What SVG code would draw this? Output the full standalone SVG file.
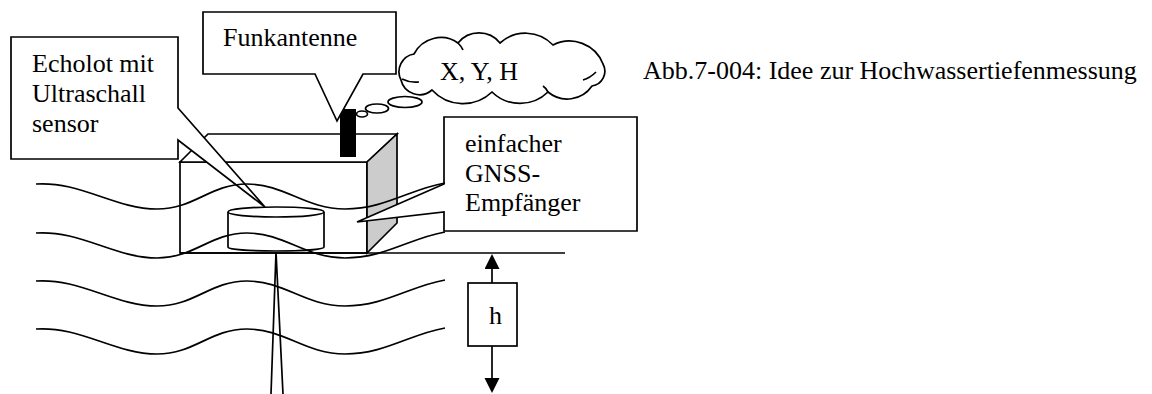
<svg xmlns="http://www.w3.org/2000/svg" width="1152" height="394" viewBox="0 0 1152 394">
  <style>
    .ln { fill: none; stroke: #000; stroke-width: 1.7; stroke-linejoin: miter; }
    .box { fill: #fff; stroke: #000; stroke-width: 1.7; stroke-linejoin: miter; }
    .txt { font-family: "Liberation Serif", "Times New Roman", serif; font-size: 26px; fill: #000; }
  </style>
  <defs>
    <marker id="head" markerUnits="userSpaceOnUse" markerWidth="16" markerHeight="16" refX="0" refY="7.5" orient="auto">
      <path d="M0,0 L15,7.5 L0,15 Z" fill="#000"/>
    </marker>
    <path id="wave" d="M0,0 C44,-3 79,25 121,25 C159,25 174,0 211,0 C249,0 269,25 309,25 C349,25 374,5 409,-1"/>
  </defs>
  <rect width="1152" height="394" fill="#fff"/>

  <!-- floating buoy body -->
  <g id="buoy">
    <rect class="box" x="180" y="162" width="187" height="91"/>
    <polygon class="box" points="180,162 208,134 397,134 367,162"/>
    <polygon class="ln" fill="#cccccc" style="fill:#cccccc" points="367,162 397,134 397,223 367,253"/>
  </g>

  <!-- ultrasonic sensor cylinder and beam -->
  <g id="sensor">
    <path class="box" d="M228,212 V247 A48,4 0 0 0 324,247 V212"/>
    <ellipse class="box" cx="276" cy="212" rx="48" ry="5"/>
    <path class="ln" d="M276,252 L271,394 M276,252 L283,394"/>
  </g>

  <!-- antenna -->
  <rect id="antenna" x="340" y="109" width="16" height="48" fill="#000"/>

  <!-- callouts -->
  <g id="echolot">
    <path class="box" d="M11,37 H178 V108 L265,207 L178,140 V159 H11 Z"/>
    <text class="txt" x="32" y="72">Echolot mit</text>
    <text class="txt" x="32" y="102">Ultraschall</text>
    <text class="txt" x="32" y="132">sensor</text>
  </g>
  <g id="funkantenne">
    <path class="box" d="M203,12 H396 V74 H363 L337,121 L315,74 H203 Z"/>
    <text class="txt" x="223" y="46">Funkantenne</text>
  </g>
  <g id="gnss">
    <path class="box" d="M444,117 H637 V231 H444 V212 L357,222 L444,184 Z"/>
    <text class="txt" x="465" y="152">einfacher</text>
    <text class="txt" x="465" y="182">GNSS-</text>
    <text class="txt" x="465" y="211">Empfänger</text>
  </g>

  <!-- thought cloud with transmitted position -->
  <g id="cloud">
    <path class="box" d="M401,80 A18,18 0 0 1 414,54 A30,30 0 0 1 458,43 A27,27 0 0 1 500,43 A38,38 0 0 1 553,45 A36,36 0 0 1 603,64 A15,15 0 0 1 592,86 A30,30 0 0 1 548,92 A40,40 0 0 1 492,92 A42,42 0 0 1 432,90 A19,19 0 0 1 401,80 Z"/>
    <path class="ln" d="M402,79 Q410,83 419,82 M583,80 Q590,78 596,72 M458,43 Q462,47 463,50 M548,92 Q546,88 543,86"/>
    <ellipse class="box" cx="405" cy="102" rx="17" ry="5.5"/>
    <ellipse class="box" cx="377" cy="108.5" rx="11.5" ry="4.5"/>
    <ellipse class="box" cx="362" cy="114" rx="5.5" ry="3"/>
    <text class="txt" x="440" y="80">X, Y, H</text>
  </g>

  <!-- water surface and waves -->
  <g id="water">
    <line class="ln" x1="180" y1="253" x2="565" y2="253"/>
    <use href="#wave" class="ln" x="36" y="184"/>
    <use href="#wave" class="ln" x="36" y="233"/>
    <use href="#wave" class="ln" x="36" y="281"/>
    <use href="#wave" class="ln" x="36" y="329"/>
  </g>

  <!-- water depth h -->
  <g id="depth">
    <line class="ln" x1="492" y1="283" x2="492" y2="269" marker-end="url(#head)"/>
    <line class="ln" x1="492" y1="346" x2="492" y2="378" marker-end="url(#head)"/>
    <rect class="box" x="468" y="283" width="49" height="63"/>
    <text class="txt" x="489" y="324">h</text>
  </g>

  <text id="caption" class="txt" x="643" y="79">Abb.7-004: Idee zur Hochwassertiefenmessung</text>
</svg>
